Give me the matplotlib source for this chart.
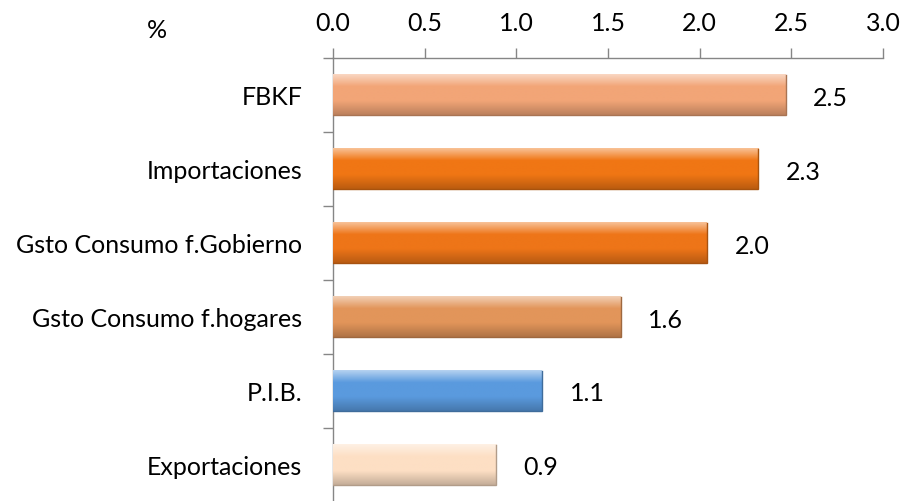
import numpy as np
import matplotlib.pyplot as plt
from matplotlib.colors import to_rgb

categorias = ["FBKF", "Importaciones", "Gsto Consumo f.Gobierno",
              "Gsto Consumo f.hogares", "P.I.B.", "Exportaciones"]
valores = [2.47, 2.32, 2.04, 1.57, 1.14, 0.89]
etiquetas = ["2.5", "2.3", "2.0", "1.6", "1.1", "0.9"]
colores = ["#F2A577", "#F07614", "#EE7518", "#E2955A", "#5A9ADE", "#FDDFC4"]

plt.rcParams['font.family'] = ['Lato', 'DejaVu Sans']

fig = plt.figure(figsize=(9.01, 5.01), dpi=100)
ax = fig.add_axes([0.3696, -0.002, 0.6104, 0.886])

y = np.arange(len(categorias))
alto = 0.55


def degradado(base):
    # claro arriba, color base al centro, oscuro abajo
    rgb = np.array(to_rgb(base))
    claro = rgb + (1 - rgb) * 0.55
    oscuro = rgb * 0.78
    t = np.linspace(0, 1, 60)[:, None]
    arriba = np.clip(t / 0.3, 0, 1)
    abajo = np.clip((t - 0.65) / 0.35, 0, 1)
    col = claro * (1 - arriba) + rgb * arriba
    col = col * (1 - abajo) + oscuro * abajo
    return col[:, None, :]


barras = ax.barh(y, valores, height=alto, color=colores, zorder=2)
for b, c in zip(barras, colores):
    x0, y0 = b.get_x(), b.get_y()
    w, h = b.get_width(), b.get_height()
    ax.imshow(degradado(c), extent=[x0, x0 + w, y0 + h, y0], aspect='auto',
              origin='upper', zorder=3, interpolation='bilinear')
    osc = np.array(to_rgb(c)) * 0.7
    ax.plot([x0, x0 + w, x0 + w], [y0 + h, y0 + h, y0], color=osc, lw=1.0,
            zorder=4, solid_joinstyle='miter')

for yi, v, lab in zip(y, valores, etiquetas):
    ax.text(v + 0.15, yi + 0.04, lab, va='center', ha='left', fontsize=18,
            color='black')

ax.set_xlim(0, 3.0)
ax.set_ylim(len(categorias) - 0.5, -0.5)
ax.set_xticks(np.arange(0, 3.01, 0.5))
ax.set_xticklabels([f"{v:.1f}" for v in np.arange(0, 3.01, 0.5)])
ax.xaxis.tick_top()
ax.set_yticks(y)
ax.set_yticklabels(categorias)
ax.set_yticks(np.arange(-0.5, len(categorias), 1.0), minor=True)

ax.tick_params(axis='x', direction='out', length=7, width=1, color='#868686',
               labelsize=18, pad=10, labelcolor='black')
ax.tick_params(axis='y', which='major', length=0, labelsize=18, pad=22,
               labelcolor='black')
ax.tick_params(axis='y', which='minor', direction='out', length=7, width=1,
               color='#868686')

for s in ['right', 'bottom']:
    ax.spines[s].set_visible(False)
for s in ['top', 'left']:
    ax.spines[s].set_color('#868686')
    ax.spines[s].set_linewidth(1)

fig.text(157 / 901, 1 - 30 / 501, "%", ha='center', va='center',
         fontsize=18, color='black')

fig.savefig("out.png", dpi=100)
